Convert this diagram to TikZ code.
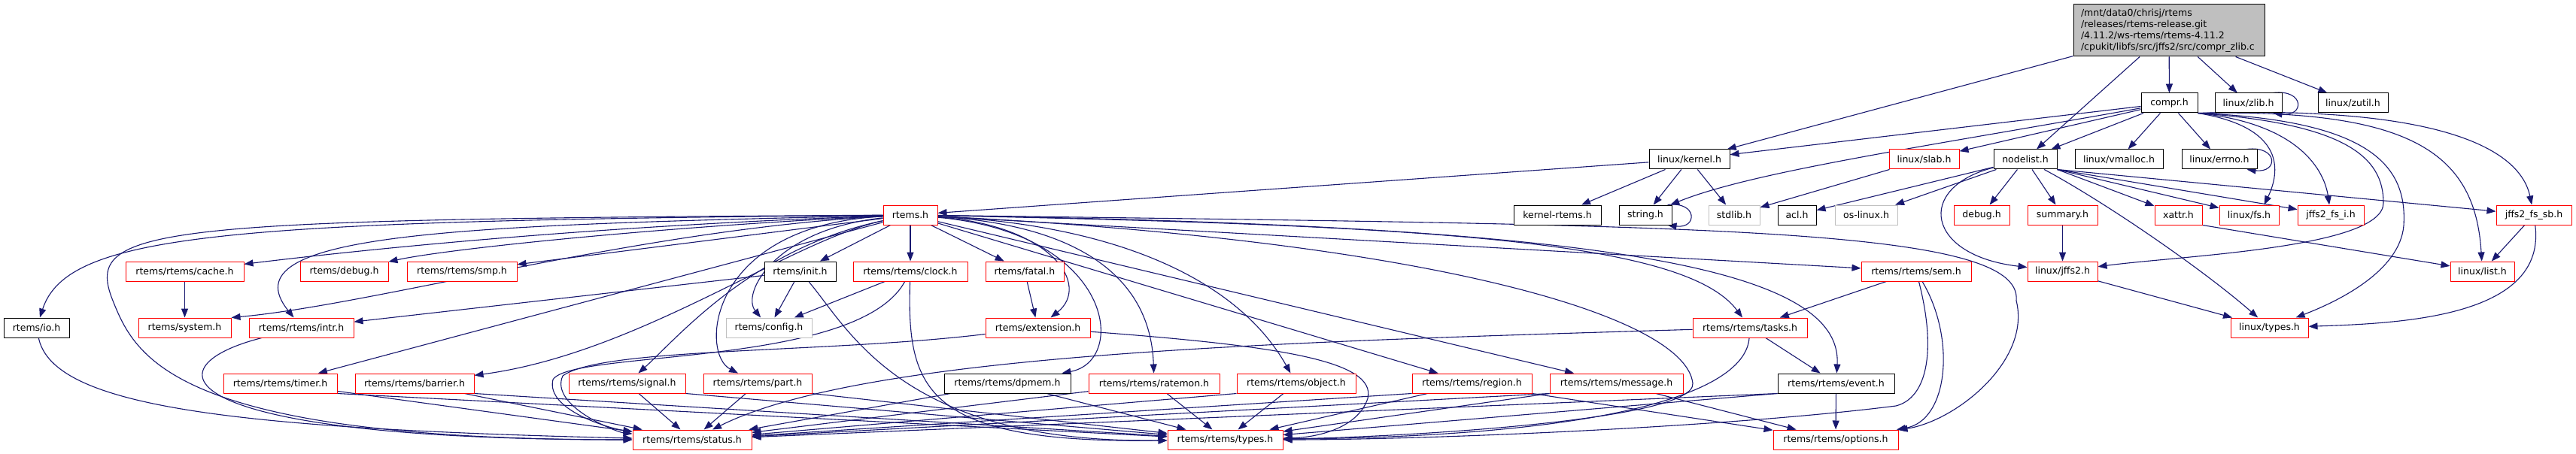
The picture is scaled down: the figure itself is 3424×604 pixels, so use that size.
\documentclass[tikz,border=0pt]{standalone}
\usepackage{fontspec}
\setmainfont{DejaVu Sans}
\usetikzlibrary{arrows.meta}
\definecolor{edgec}{HTML}{191970}
\definecolor{g75}{HTML}{BFBFBF}
\definecolor{rdc}{HTML}{FF0000}
\pgfdeclarelayer{bg}
\pgfsetlayers{bg,main}
\begin{document}
\begin{tikzpicture}[x=1pt,y=-1pt,
  box/.style={draw,line width=1pt,rectangle,minimum height=26pt,inner xsep=1pt,inner ysep=0pt,fill=white,font=\fontsize{12.5}{15}\selectfont},
  bk/.style={box,draw=black},
  rb/.style={box,draw=rdc},
  gb/.style={box,draw=g75},
  e/.style={draw=edgec,line width=1.1pt,-{Triangle[length=12pt,width=9pt]}},
]
\useasboundingbox (0,0) rectangle (3424,604);
% ---------- nodes ----------
\node[box,draw=black,fill=g75,minimum height=69pt,text width=234pt,inner xsep=10pt,align=left] (root) at (2883,40.5)
  {/mnt/data0/chrisj/rtems\\/releases/rtems-release.git\\/4.11.2/ws-rtems/rtems-4.11.2\\/cpukit/libfs/src/jffs2/src/compr\_zlib.c};
\node[bk,minimum width=75pt] (compr) at (2883.5,137) {compr.h};
\node[bk,minimum width=89pt] (zlib) at (2988.5,137) {linux/zlib.h};
\node[bk,minimum width=93pt] (zutil) at (3127.5,137) {linux/zutil.h};
\node[bk,minimum width=107pt] (kernel) at (2245.5,212) {linux/kernel.h};
\node[rb,minimum width=93pt] (slab) at (2557.5,212) {linux/slab.h};
\node[bk,minimum width=84pt] (nodelist) at (2692,212) {nodelist.h};
\node[bk,minimum width=117pt] (vmalloc) at (2816.5,212) {linux/vmalloc.h};
\node[bk,minimum width=100pt] (errno) at (2950,212) {linux/errno.h};
\node[rb,minimum width=72pt] (rtemsh) at (1210,286) {rtems.h};
\node[bk,minimum width=116pt] (kernelrtems) at (2070,286) {kernel-rtems.h};
\node[bk,minimum width=70pt] (string) at (2187,286) {string.h};
\node[gb,minimum width=68pt] (stdlib) at (2305,286) {stdlib.h};
\node[bk,minimum width=51pt] (acl) at (2388.5,286) {acl.h};
\node[gb,minimum width=83pt] (oslinux) at (2480.5,286) {os-linux.h};
\node[rb,minimum width=74pt] (debugh) at (2634,286) {debug.h};
\node[rb,minimum width=93pt] (summary) at (2741.5,286) {summary.h};
\node[rb,minimum width=63pt] (xattr) at (2895.5,286) {xattr.h};
\node[rb,minimum width=79pt] (fs) at (2989.5,286) {linux/fs.h};
\node[rb,minimum width=88pt] (fsi) at (3098,286) {jffs2\_fs\_i.h};
\node[rb,minimum width=100pt] (fssb) at (3368,286) {jffs2\_fs\_sb.h};
\node[rb,minimum width=157pt] (cache) at (245.5,361) {rtems/rtems/cache.h};
\node[rb,minimum width=117pt] (rdebug) at (457.5,361) {rtems/debug.h};
\node[rb,minimum width=146pt] (smp) at (614,361) {rtems/rtems/smp.h};
\node[bk,minimum width=95pt] (init) at (1063.5,361) {rtems/init.h};
\node[rb,minimum width=152pt] (clock) at (1210,361) {rtems/rtems/clock.h};
\node[rb,minimum width=104pt] (fatal) at (1362,361) {rtems/fatal.h};
\node[rb,minimum width=146pt] (sem) at (2547,361) {rtems/rtems/sem.h};
\node[rb,minimum width=93pt] (jffs2) at (2741.5,361) {linux/jffs2.h};
\node[rb,minimum width=85pt] (list) at (3299.5,361) {linux/list.h};
\node[bk,minimum width=87pt] (io) at (48.5,436) {rtems/io.h};
\node[rb,minimum width=123pt] (system) at (245.5,436) {rtems/system.h};
\node[rb,minimum width=139pt] (intr) at (400.5,436) {rtems/rtems/intr.h};
\node[gb,minimum width=114pt] (config) at (1022,436) {rtems/config.h};
\node[rb,minimum width=139pt] (extension) at (1379.5,436) {rtems/extension.h};
\node[rb,minimum width=152pt] (tasks) at (2326,436) {rtems/rtems/tasks.h};
\node[rb,minimum width=103pt] (ltypes) at (3016.5,436) {linux/types.h};
\node[rb,minimum width=151pt] (timer) at (372.5,510) {rtems/rtems/timer.h};
\node[rb,minimum width=158pt] (barrier) at (551,510) {rtems/rtems/barrier.h};
\node[rb,minimum width=155pt] (signal) at (833.5,510) {rtems/rtems/signal.h};
\node[rb,minimum width=144pt] (part) at (1007,510) {rtems/rtems/part.h};
\node[bk,minimum width=168pt] (dpmem) at (1339,510) {rtems/rtems/dpmem.h};
\node[rb,minimum width=174pt] (ratemon) at (1534,510) {rtems/rtems/ratemon.h};
\node[rb,minimum width=158pt] (object) at (1723,510) {rtems/rtems/object.h};
\node[rb,minimum width=159pt] (region) at (1956.5,510) {rtems/rtems/region.h};
\node[rb,minimum width=177pt] (message) at (2148.5,510) {rtems/rtems/message.h};
\node[bk,minimum width=155pt] (event) at (2440.5,510) {rtems/rtems/event.h};
\node[rb,minimum width=158pt] (status) at (920,585) {rtems/rtems/status.h};
\node[rb,minimum width=153pt] (types) at (1628.5,585) {rtems/rtems/types.h};
\node[rb,minimum width=166pt] (options) at (2440,585) {rtems/rtems/options.h};
% ---------- edges ----------
\begin{pgfonlayer}{bg}
\fill[white] (0,0) rectangle (3424,604);
% root
\draw[e] (root) -- (kernel);
\draw[e] (root) -- (nodelist);
\draw[e] (root) -- (compr);
\draw[e] (root) -- (zlib);
\draw[e] (root) -- (zutil);
% compr.h
\draw[e] (compr) -- (kernel);
\draw[e] (compr) .. controls (2560,195) and (2330,228) .. (string);
\draw[e] (compr) -- (slab);
\draw[e] (compr) -- (nodelist);
\draw[e] (compr) -- (vmalloc);
\draw[e] (compr) -- (errno);
\draw[e] (compr.south east) .. controls (3040,170) and (3030,230) .. ([xshift=20pt]fs.north);
\draw[e] (compr.south east) .. controls (3060,165) and (3090,230) .. (fsi);
\draw[e] (compr.south east) .. controls (3120,165) and (3168,210) .. (3168,270) .. controls (3168,330) and (2900,340) .. (jffs2);
\draw[e] (compr.south east) .. controls (3150,160) and (3200,220) .. (3195,300) .. controls (3190,360) and (3110,400) .. (ltypes);
\draw[e] (compr.south east) .. controls (3200,145) and (3290,200) .. (list);
\draw[e] (compr.south east) .. controls (3250,140) and (3350,200) .. (fssb);
% self loops
\draw[e] ([xshift=-12pt]zlib.north east) .. controls +(42,-5) and +(42,5) .. ([xshift=-12pt]zlib.south east);
\draw[e] ([xshift=-14pt]errno.north east) .. controls +(42,-5) and +(42,5) .. ([xshift=-14pt]errno.south east);
\draw[e] ([xshift=-6pt]string.north east) .. controls +(40,-5) and +(40,5) .. ([xshift=-6pt]string.south east);
% nodelist.h
\draw[e] (nodelist) -- (acl);
\draw[e] (nodelist) -- (oslinux);
\draw[e] (nodelist) -- (debugh);
\draw[e] (nodelist) -- (summary);
\draw[e] (nodelist) .. controls (2545,250) and (2560,340) .. (jffs2);
\draw[e] (nodelist) .. controls (2800,270) and (2930,360) .. (ltypes);
\draw[e] (nodelist.south east) -- (xattr);
\draw[e] (nodelist.south east) -- (fs);
\draw[e] (nodelist.south east) -- (fsi);
\draw[e] (nodelist.south east) -- (fssb);
% linux headers
\draw[e] (kernel) -- (rtemsh);
\draw[e] (kernel) -- (kernelrtems);
\draw[e] (kernel) -- (string);
\draw[e] (kernel) -- (stdlib);
\draw[e] (slab) -- (stdlib);
\draw[e] (summary) -- (jffs2);
\draw[e] (xattr.south east) -- (list);
\draw[e] (fssb) -- (list);
\draw[e] (fssb) .. controls (3385,420) and (3200,430) .. (ltypes);
\draw[e] (jffs2) -- (ltypes);
% rtems.h
\draw[e] (rtemsh) .. controls (300,294) and (90,310) .. (io);
\draw[e] (rtemsh) .. controls (200,292) and (110,300) .. (150,400) .. controls (180,475) and (230,585) .. (status);
\draw[e] (rtemsh) .. controls (800,300) and (500,330) .. (cache);
\draw[e] (rtemsh) .. controls (900,300) and (600,330) .. (rdebug);
\draw[e] (rtemsh) -- (smp);
\draw[e] (rtemsh) .. controls (600,300) and (300,310) .. ([xshift=-10pt]intr.north);
\draw[e] (rtemsh) .. controls (850,305) and (500,405) .. (system.north east);
\draw[e] (cache) -- (system);
\draw[e] (rtemsh) -- (timer);
\draw[e] (rtemsh) .. controls (1050,320) and (850,470) .. (barrier);
\draw[e] (rtemsh) .. controls (1000,330) and (900,450) .. (signal);
\draw[e] (rtemsh) -- (init);
\draw[e] (rtemsh) -- (clock);
\draw[e] (rtemsh) -- (fatal);
\draw[e] (rtemsh) .. controls (1030,305) and (985,390) .. (config);
\draw[e] (rtemsh) .. controls (940,300) and (930,470) .. (part);
\draw[e] (rtemsh) .. controls (1400,300) and (1450,380) .. (extension);
\draw[e] (rtemsh) .. controls (1480,310) and (1500,480) .. (dpmem);
\draw[e] (rtemsh) .. controls (1450,300) and (1530,380) .. (ratemon);
\draw[e] (rtemsh) .. controls (1500,300) and (1650,380) .. (object);
\draw[e] (rtemsh) -- (region);
\draw[e] (rtemsh) -- (message);
\draw[e] (rtemsh) -- (sem);
\draw[e] (rtemsh) .. controls (1900,300) and (2240,320) .. (tasks);
\draw[e] (rtemsh) .. controls (2100,300) and (2450,350) .. (event);
\draw[e] (rtemsh) .. controls (2250,300) and (2690,300) .. (2680,400) .. controls (2700,480) and (2600,560) .. (options);
\draw[e] (rtemsh) .. controls (1900,320) and (2240,420) .. (2250,510) .. controls (2255,560) and (1850,582) .. (types);
% second level
\draw[e] (init) -- (config);
\draw[e] (clock) -- (config);
\draw[e] (init) -- (intr);
\draw[e] (init) .. controls (1130,440) and (1200,590) .. (types);
\draw[e] (clock) .. controls (1205,520) and (1230,590) .. (types);
\draw[e] (clock) .. controls (1140,490) and (760,465) .. (735,505) .. controls (725,545) and (810,570) .. (status);
\draw[e] (fatal) -- (extension);
\draw[e] (extension) .. controls (1100,470) and (800,462) .. (748,500) .. controls (730,540) and (820,575) .. (status);
\draw[e] (extension) .. controls (1700,460) and (1830,480) .. (1818,530) .. controls (1805,570) and (1750,582) .. (types);
\draw[e] (io) .. controls (70,540) and (300,570) .. (status);
\draw[e] (intr) .. controls (190,490) and (230,585) .. (status);
\draw[e] (tasks) .. controls (1700,455) and (1150,470) .. (status);
\draw[e] (tasks) .. controls (2320,520) and (2150,580) .. (types);
\draw[e] (tasks) -- (event);
\draw[e] (sem) -- (tasks);
\draw[e] (sem) .. controls (2600,450) and (2590,560) .. (options);
\draw[e] (sem) .. controls (2575,470) and (2560,530) .. (2520,540) .. controls (2300,568) and (1900,585) .. (types);
% bottom row to status / types / options
\draw[e] (timer) -- (status);
\draw[e] (barrier) -- (status);
\draw[e] (signal) -- (status);
\draw[e] (part) -- (status);
\draw[e] (dpmem) -- (status);
\draw[e] (ratemon) -- (status);
\draw[e] (object.south west) -- (status);
\draw[e] (region.south west) -- (status);
\draw[e] (message.south west) -- (status);
\draw[e] (event.south west) -- (status);
\draw[e] (timer.south east) -- (types);
\draw[e] (barrier.south east) -- (types);
\draw[e] (signal.south east) -- (types);
\draw[e] (part.south east) -- (types);
\draw[e] (dpmem) -- (types);
\draw[e] (ratemon) -- (types);
\draw[e] (object) -- (types);
\draw[e] (region) -- (types);
\draw[e] (message.south west) -- (types);
\draw[e] (event.south west) -- (types);
\draw[e] (region.south east) -- (options);
\draw[e] (message) -- (options);
\draw[e] (event) -- (options);
\end{pgfonlayer}
\end{tikzpicture}
\end{document}
